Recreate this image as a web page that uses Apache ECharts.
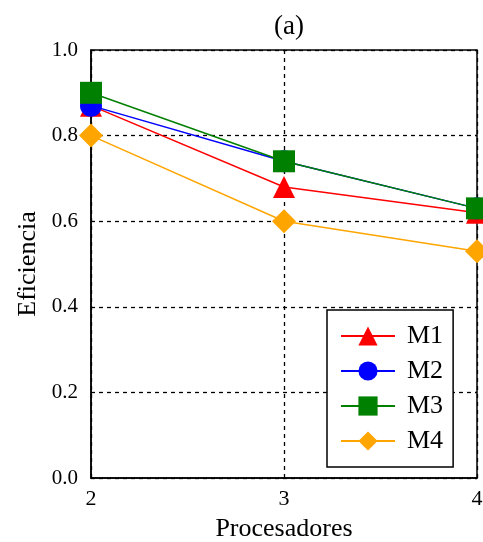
<!DOCTYPE html>
<html><head><meta charset="utf-8">
<script src="https://cdn.jsdelivr.net/npm/echarts@6/dist/echarts.min.js"></script>
<style>html,body{margin:0;padding:0;background:#fff}#c{width:483px;height:542px}</style>
</head><body><div id="c"></div>
<script>
var processors = [2, 3, 4];
var seriesNames = ['M1', 'M2', 'M3', 'M4'];
var m1 = [0.87, 0.68, 0.62];
var m2 = [0.87, 0.74, 0.63];
var m3 = [0.90, 0.74, 0.63];
var m4 = [0.80, 0.60, 0.53];
var yTicks = [0.0, 0.2, 0.4, 0.6, 0.8, 1.0];

var colors = ['#ff0000', '#0000ff', '#008000', '#ffa500'];
var symbols = ['triangle', 'circle', 'rect', 'diamond'];
var sizes = [22, 22, 22, 24];
var values = [m1, m2, m3, m4];
var font = '"Liberation Serif", "DejaVu Serif", serif';

var series = seriesNames.map(function (n, i) {
  return {
    name: n, type: 'line',
    data: processors.map(function (p, j) { return [p, values[i][j]]; }),
    symbol: symbols[i], symbolSize: sizes[i],
    itemStyle: { color: colors[i] },
    lineStyle: { color: colors[i], width: 1.5 },
    z: 3 + i
  };
});

var chart = echarts.init(document.getElementById('c'), null, { renderer: 'canvas' });
chart.setOption({
  animation: false,
  title: { text: '(a)', left: 284, top: 8, textAlign: 'center',
    textStyle: { fontFamily: font, fontSize: 27, fontWeight: 'normal', color: '#000' } },
  grid: { left: 91, right: 6, top: 50, bottom: 64, show: true, borderColor: '#000', borderWidth: 1.5,
    backgroundColor: 'transparent', outerBoundsMode: 'none', containLabel: false },
  legend: {
    orient: 'vertical', left: 327, top: 310, width: 135, height: 153,
    padding: [13, 10, 13, 13], itemGap: 9,
    borderColor: '#000', borderWidth: 1.5, backgroundColor: '#fff',
    itemWidth: 54, itemHeight: 24,
    textStyle: { fontFamily: font, fontSize: 26, color: '#000', padding: [0, 0, 0, 7] },
    data: seriesNames
  },
  xAxis: {
    type: 'value', min: 2, max: 4, interval: 1,
    name: 'Procesadores', nameLocation: 'middle', nameGap: 38,
    nameTextStyle: { fontFamily: font, fontSize: 26, color: '#000' },
    axisLine: { show: true, lineStyle: { color: '#000', width: 1.5 } },
    axisTick: { show: false },
    axisLabel: { fontFamily: font, fontSize: 22, color: '#000', margin: 10,
      formatter: function (v) { return processors.indexOf(v) >= 0 ? String(v) : ''; } },
    splitLine: { show: true, lineStyle: { color: '#000', type: [4, 4], width: 1.3 } }
  },
  yAxis: {
    type: 'value', min: 0, max: 1, interval: 0.2,
    name: 'Eficiencia', nameLocation: 'middle', nameGap: 50,
    nameTextStyle: { fontFamily: font, fontSize: 26, color: '#000' },
    axisLine: { show: true, lineStyle: { color: '#000', width: 1.5 } },
    axisTick: { show: false },
    axisLabel: { fontFamily: font, fontSize: 21, color: '#000', margin: 13,
      formatter: function (v) {
        var t = yTicks.filter(function (k) { return Math.abs(k - v) < 1e-9; });
        return t.length ? t[0].toFixed(1) : '';
      } },
    splitLine: { show: true, lineStyle: { color: '#000', type: [4, 4], width: 1.3 } }
  },
  series: series
});
</script></body></html>
